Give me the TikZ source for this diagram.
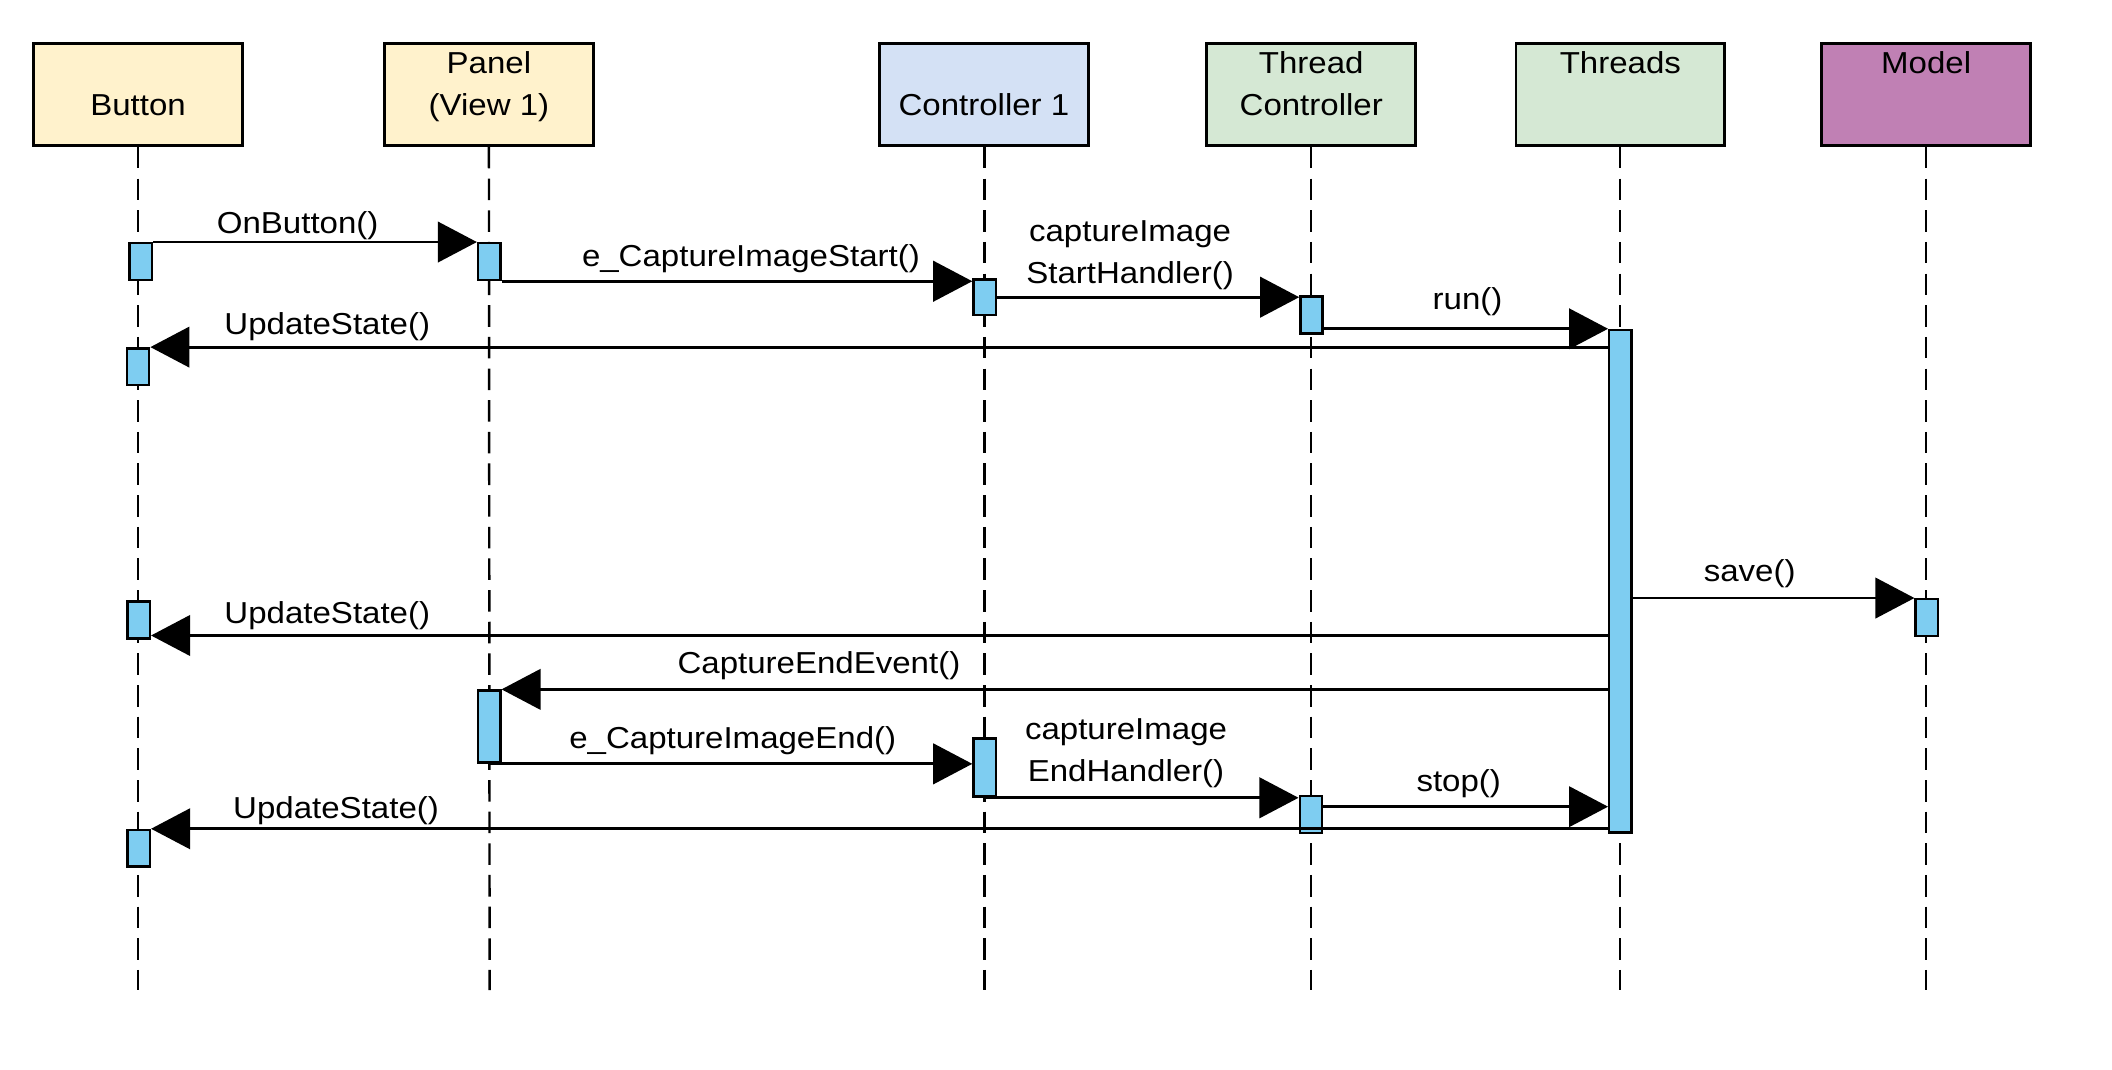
\documentclass[tikz,border=0pt]{standalone}
\usepackage{fontspec}
\setmainfont{Liberation Sans}[FakeStretch=1.09]
\usetikzlibrary{arrows.meta}
\definecolor{yelfill}{HTML}{FFF2CC}
\definecolor{bluefill}{HTML}{D4E1F5}
\definecolor{greenfill}{HTML}{D5E8D4}
\definecolor{purpfill}{HTML}{C080B4}
\definecolor{actfill}{HTML}{7ECDF1}
\begin{document}
\begin{tikzpicture}[x=1pt,y=-1pt,
  font=\fontsize{22.5}{31}\selectfont,
  head/.style={draw, line width=2.2pt, minimum width=155pt, minimum height=76pt, inner sep=0pt},
  actbox/.style={draw, line width=1.8pt, fill=actfill, minimum width=16.5pt, inner sep=0pt},
  msg/.style={line width=2.1pt, -{Triangle[length=29pt,width=30pt]}},
  lbl/.style={anchor=base, inner sep=0pt, align=center},
  life/.style={line width=1.8pt, dash pattern=on 16pt off 7.5pt}]
\useasboundingbox (0,0) rectangle (1568,794);

% headers
\node[head, fill=yelfill]   (hB)  at (102.5,70) {};
\node[head, fill=yelfill]   (hP)  at (363,70)   {};
\node[head, fill=bluefill]  (hC)  at (730.5,70) {};
\node[head, fill=greenfill] (hTC) at (973.5,70) {};
\node[head, fill=greenfill] (hT)  at (1203,70)  {};
\node[head, fill=purpfill]  (hM)  at (1430,70)  {};

\node[lbl] (tB)  at (102.5,85.4) {Button};
\node[lbl] (tP)  at (363,85.4)   {Panel\\(View 1)};
\node[lbl] (tC)  at (730.5,85.4) {Controller 1};
\node[lbl] (tTC) at (973.5,85.4) {Thread\\Controller};
\node[lbl] (tT)  at (1203,54.4)  {Threads};
\node[lbl] (tM)  at (1430,54.4)  {Model};

% lifeline ends
\coordinate (eB)  at (102.5,735);
\coordinate (eP)  at (363.5,735);
\coordinate (eC)  at (731,735);
\coordinate (eTC) at (973.5,735);
\coordinate (eT)  at (1202.5,735);
\coordinate (eM)  at (1430,735);
\draw[life] (hB.south)  -- (eB);
\draw[life] (hP.south)  -- (eP);
\draw[life] (hC.south -| eC)  -- (eC);
\draw[life] (hTC.south) -- (eTC);
\draw[life] (hT.south -| eT)  -- (eT);
\draw[life] (hM.south)  -- (eM);

% activations
\node[actbox, minimum height=27.3pt]  (b1)  at (104.5,194.25) {};
\node[actbox, minimum height=27.3pt]  (p1)  at (363.2,194.25) {};
\node[actbox, minimum height=26.5pt]  (c1)  at (731,220.65)   {};
\node[actbox, minimum height=27.3pt]  (tc1) at (973.7,233.85) {};
\node[actbox, minimum height=373.2pt] (th)  at (1203,431.6)   {};
\node[actbox, minimum height=27.2pt]  (b2)  at (102.5,272.2)  {};
\node[actbox, minimum height=27.3pt]  (m1)  at (1430.5,458.55){};
\node[actbox, minimum height=27.2pt]  (b3)  at (103,460.3)    {};
\node[actbox, minimum height=53.5pt]  (p2)  at (363.2,539.45) {};
\node[actbox, minimum height=43pt]    (c2)  at (731,569.9)    {};
\node[actbox, minimum height=27.6pt]  (tc2) at (973.2,604.8)  {};
\node[actbox, minimum height=27.2pt]  (b4)  at (103,629.8)    {};

% messages
\draw[msg] (b1.north east) -- (p1.north west);
\node[lbl] (l1) at (221,173) {OnButton()};

\draw[msg] (p1.south east) -- (p1.south east -| c1.west);
\node[lbl] (l2) at (557.5,198) {e\_CaptureImageStart()};

\draw[msg] (c1.east) -- (c1.east -| tc1.west);
\node[lbl] (l3) at (839,210.3) {captureImage\\StartHandler()};

\draw[msg] (tc1.south east |- th.north west) -- (th.north west);
\node[lbl] (l4) at (1089.5,230) {run()};

\draw[msg] (th.west |- b2.north east) -- (b2.north east);
\node[lbl] (l5) at (243,248.7) {UpdateState()};

\draw[msg] (th.east |- m1.north west) -- (m1.north west);
\node[lbl] (l6) at (1299,431.8) {save()};

\coordinate (u2) at ([yshift=3pt]b3.south east);
\draw[msg] (th.west |- u2) -- (u2);
\node[lbl] (l7) at (243,462.8) {UpdateState()};

\draw[msg] (th.west |- p2.north east) -- (p2.north east);
\node[lbl] (l8) at (608,499.9) {CaptureEndEvent()};

\draw[msg] (p2.south) -- (p2.south -| c2.west);
\node[lbl] (l9) at (544,555.5) {e\_CaptureImageEnd()};

\draw[msg] (c2.south) -- (c2.south -| tc2.west);
\node[lbl] (l10) at (836,580.3) {captureImage\\EndHandler()};

\coordinate (s1) at ([yshift=5.9pt]tc2.east);
\draw[msg] (s1) -- (s1 -| th.west);
\node[lbl] (l11) at (1083,587.7) {stop()};

\draw[msg] (th.south west |- b4.north east) -- (b4.north east);
\node[lbl] (l12) at (249.5,607.5) {UpdateState()};
\end{tikzpicture}
\end{document}
